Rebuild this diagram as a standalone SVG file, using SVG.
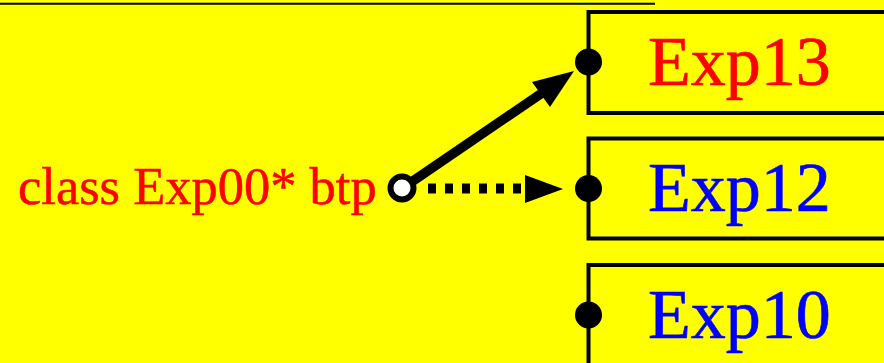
<svg xmlns="http://www.w3.org/2000/svg" width="884" height="363" viewBox="0 0 884 363">
  <style>
    .box { fill: #ffff00; stroke: #000; stroke-width: 4; }
    .port { fill: #000; }
    .head { fill: #000; }
    .name { font-family: "Liberation Serif", "Times New Roman", serif; font-size: 70px; stroke-width: 0.7; }
    .red { fill: #ff0000; stroke: #ff0000; }
    .blue { fill: #0000ff; stroke: #0000ff; }
  </style>

  <rect x="0" y="0" width="884" height="363" fill="#ffff00"/>
  <line x1="0" y1="3.7" x2="655" y2="3.7" stroke="#000" stroke-width="2"/>

  <g id="exp13">
    <rect class="box" x="588.5" y="12" width="400" height="101"/>
    <circle class="port" cx="588.5" cy="62" r="13.5"/>
    <text class="name red" x="648" y="85">Exp13</text>
  </g>

  <g id="exp12">
    <rect class="box" x="588.5" y="138.5" width="400" height="100"/>
    <circle class="port" cx="588.5" cy="188.5" r="13.5"/>
    <text class="name blue" x="648" y="211">Exp12</text>
  </g>

  <g id="exp10">
    <rect class="box" x="588.5" y="265" width="400" height="120"/>
    <circle class="port" cx="588.5" cy="315" r="13.5"/>
    <text class="name blue" x="648" y="338">Exp10</text>
  </g>

  <g id="btp">
    <text x="18" y="204" font-family="'Liberation Serif', 'Times New Roman', serif" font-size="52.5" fill="#ff0000" stroke="#ff0000" stroke-width="0.5">class Exp00* btp</text>
  </g>

  <g id="connectors">
    <!-- solid pointer to Exp13 -->
    <line x1="410" y1="183" x2="542" y2="93" stroke="#000" stroke-width="9.5"/>
    <polygon class="head" points="532,82 574,71 550,107"/>
    <!-- dotted pointer to Exp12 -->
    <line x1="428" y1="188.5" x2="525" y2="188.5" stroke="#000" stroke-width="10" stroke-dasharray="8 9"/>
    <polygon class="head" points="525,175 563,189 525,203"/>
    <circle cx="402" cy="188" r="11.5" fill="#fff" stroke="#000" stroke-width="6"/>
  </g>
</svg>
